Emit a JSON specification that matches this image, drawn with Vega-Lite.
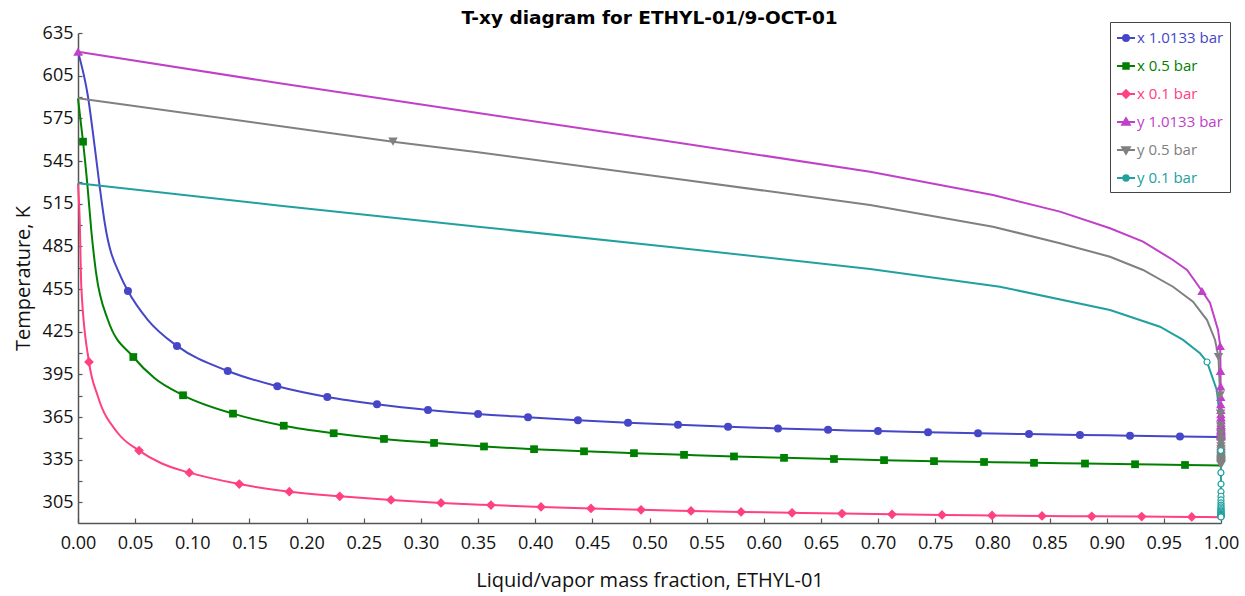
{
"$schema": "https://vega.github.io/schema/vega-lite/v6.json",
"width": 1143, "height": 490,
"autosize": {"type": "none"},
"padding": {"left": 78, "top": 33, "right": 24, "bottom": 73},
"background": "white",
"config": {
  "font": "Open Sans",
  "view": {"stroke": null},
  "axis": {"grid": false, "domainColor": "#555555", "domainWidth": 1.5, "tickColor": "#555555", "tickWidth": 1.2, "labelColor": "#111111", "titleColor": "#111111", "labelFont": "Open Sans", "titleFont": "Open Sans", "labelFontSize": 18, "titleFontSize": 20, "titleFontWeight": "normal"}
},
"title": {"text": "T-xy diagram for ETHYL-01/9-OCT-01", "font": "DejaVu Sans", "fontSize": 18.5, "fontWeight": "bold", "anchor": "middle", "color": "#000000", "offset": -6},
"data": {"values": [
{"s":"x 1.0133 bar","x":0,"T":621.85},
{"s":"x 1.0133 bar","x":0.00875,"T":590.2},
{"s":"x 1.0133 bar","x":0.0146,"T":555.1},
{"s":"x 1.0133 bar","x":0.019,"T":526.9},
{"s":"x 1.0133 bar","x":0.0234,"T":501.4},
{"s":"x 1.0133 bar","x":0.0379,"T":462.8},
{"s":"x 1.0133 bar","x":0.0437,"T":453.6,"m":1},
{"s":"x 1.0133 bar","x":0.0612,"T":433.2},
{"s":"x 1.0133 bar","x":0.0866,"T":415.0,"m":1},
{"s":"x 1.0133 bar","x":0.131,"T":397.4,"m":1},
{"s":"x 1.0133 bar","x":0.1744,"T":386.6,"m":1},
{"s":"x 1.0133 bar","x":0.2181,"T":379.1,"m":1},
{"s":"x 1.0133 bar","x":0.2616,"T":374.0,"m":1},
{"s":"x 1.0133 bar","x":0.3062,"T":370.0,"m":1},
{"s":"x 1.0133 bar","x":0.350,"T":367.1,"m":1},
{"s":"x 1.0133 bar","x":0.3937,"T":364.9,"m":1},
{"s":"x 1.0133 bar","x":0.4374,"T":362.8,"m":1},
{"s":"x 1.0133 bar","x":0.4812,"T":361.0,"m":1},
{"s":"x 1.0133 bar","x":0.5249,"T":359.5,"m":1},
{"s":"x 1.0133 bar","x":0.5687,"T":358.2,"m":1},
{"s":"x 1.0133 bar","x":0.6124,"T":357.0,"m":1},
{"s":"x 1.0133 bar","x":0.6562,"T":356.0,"m":1},
{"s":"x 1.0133 bar","x":0.6999,"T":355.1,"m":1},
{"s":"x 1.0133 bar","x":0.7437,"T":354.3,"m":1},
{"s":"x 1.0133 bar","x":0.7874,"T":353.6,"m":1},
{"s":"x 1.0133 bar","x":0.832,"T":353.0,"m":1},
{"s":"x 1.0133 bar","x":0.8766,"T":352.4,"m":1},
{"s":"x 1.0133 bar","x":0.9204,"T":351.9,"m":1},
{"s":"x 1.0133 bar","x":0.9641,"T":351.4,"m":1},
{"s":"x 1.0133 bar","x":1.0,"T":351.0},
{"s":"x 0.5 bar","x":0,"T":589.1},
{"s":"x 0.5 bar","x":0.0044,"T":558.6,"m":1},
{"s":"x 0.5 bar","x":0.0081,"T":529.3},
{"s":"x 0.5 bar","x":0.0116,"T":496.5},
{"s":"x 0.5 bar","x":0.0157,"T":467.0},
{"s":"x 0.5 bar","x":0.0262,"T":433.2},
{"s":"x 0.5 bar","x":0.0484,"T":407.2,"m":1},
{"s":"x 0.5 bar","x":0.0671,"T":392.2},
{"s":"x 0.5 bar","x":0.0919,"T":380.3,"m":1},
{"s":"x 0.5 bar","x":0.1356,"T":367.4,"m":1},
{"s":"x 0.5 bar","x":0.18,"T":358.9,"m":1},
{"s":"x 0.5 bar","x":0.2237,"T":353.6,"m":1},
{"s":"x 0.5 bar","x":0.2677,"T":349.6,"m":1},
{"s":"x 0.5 bar","x":0.3115,"T":346.8,"m":1},
{"s":"x 0.5 bar","x":0.3552,"T":344.3,"m":1},
{"s":"x 0.5 bar","x":0.399,"T":342.4,"m":1},
{"s":"x 0.5 bar","x":0.4427,"T":340.9,"m":1},
{"s":"x 0.5 bar","x":0.4864,"T":339.6,"m":1},
{"s":"x 0.5 bar","x":0.5302,"T":338.4,"m":1},
{"s":"x 0.5 bar","x":0.5739,"T":337.3,"m":1},
{"s":"x 0.5 bar","x":0.6177,"T":336.3,"m":1},
{"s":"x 0.5 bar","x":0.6614,"T":335.5,"m":1},
{"s":"x 0.5 bar","x":0.7052,"T":334.7,"m":1},
{"s":"x 0.5 bar","x":0.7489,"T":334.0,"m":1},
{"s":"x 0.5 bar","x":0.7927,"T":333.4,"m":1},
{"s":"x 0.5 bar","x":0.8364,"T":332.8,"m":1},
{"s":"x 0.5 bar","x":0.881,"T":332.3,"m":1},
{"s":"x 0.5 bar","x":0.9248,"T":331.8,"m":1},
{"s":"x 0.5 bar","x":0.9685,"T":331.3,"m":1},
{"s":"x 0.5 bar","x":1.0,"T":330.9},
{"s":"x 0.1 bar","x":0,"T":529.3},
{"s":"x 0.1 bar","x":0.0015,"T":503.5},
{"s":"x 0.1 bar","x":0.0029,"T":456.6},
{"s":"x 0.1 bar","x":0.0096,"T":403.7,"m":1},
{"s":"x 0.1 bar","x":0.0175,"T":379.3},
{"s":"x 0.1 bar","x":0.035,"T":353.6},
{"s":"x 0.1 bar","x":0.0534,"T":341.4,"m":1},
{"s":"x 0.1 bar","x":0.0729,"T":332.5},
{"s":"x 0.1 bar","x":0.0974,"T":325.9,"m":1},
{"s":"x 0.1 bar","x":0.1411,"T":317.9,"m":1},
{"s":"x 0.1 bar","x":0.1849,"T":312.5,"m":1},
{"s":"x 0.1 bar","x":0.229,"T":309.3,"m":1},
{"s":"x 0.1 bar","x":0.2738,"T":306.7,"m":1},
{"s":"x 0.1 bar","x":0.3176,"T":304.6,"m":1},
{"s":"x 0.1 bar","x":0.3613,"T":303.1,"m":1},
{"s":"x 0.1 bar","x":0.4051,"T":301.8,"m":1},
{"s":"x 0.1 bar","x":0.4488,"T":300.7,"m":1},
{"s":"x 0.1 bar","x":0.4926,"T":299.8,"m":1},
{"s":"x 0.1 bar","x":0.5363,"T":299.0,"m":1},
{"s":"x 0.1 bar","x":0.5801,"T":298.3,"m":1},
{"s":"x 0.1 bar","x":0.6247,"T":297.7,"m":1},
{"s":"x 0.1 bar","x":0.6684,"T":297.1,"m":1},
{"s":"x 0.1 bar","x":0.7122,"T":296.6,"m":1},
{"s":"x 0.1 bar","x":0.7559,"T":296.2,"m":1},
{"s":"x 0.1 bar","x":0.7997,"T":295.8,"m":1},
{"s":"x 0.1 bar","x":0.8434,"T":295.5,"m":1},
{"s":"x 0.1 bar","x":0.8869,"T":295.2,"m":1},
{"s":"x 0.1 bar","x":0.9306,"T":295.0,"m":1},
{"s":"x 0.1 bar","x":0.9744,"T":294.8,"m":1},
{"s":"x 0.1 bar","x":1.0,"T":294.6},
{"s":"y 1.0133 bar","x":0,"T":621.85,"m":1},
{"s":"y 1.0133 bar","x":0.175,"T":599.8},
{"s":"y 1.0133 bar","x":0.35,"T":578.8},
{"s":"y 1.0133 bar","x":0.518,"T":558.7},
{"s":"y 1.0133 bar","x":0.693,"T":537.5},
{"s":"y 1.0133 bar","x":0.8005,"T":521.1},
{"s":"y 1.0133 bar","x":0.8591,"T":509.4},
{"s":"y 1.0133 bar","x":0.9029,"T":497.7},
{"s":"y 1.0133 bar","x":0.9318,"T":488.3},
{"s":"y 1.0133 bar","x":0.958,"T":475.4},
{"s":"y 1.0133 bar","x":0.9703,"T":468.4},
{"s":"y 1.0133 bar","x":0.9834,"T":453.6,"m":1},
{"s":"y 1.0133 bar","x":0.9904,"T":445.2},
{"s":"y 1.0133 bar","x":0.9974,"T":426.2},
{"s":"y 1.0133 bar","x":0.9993,"T":415.0,"m":1},
{"s":"y 1.0133 bar","x":0.9996,"T":397.4,"m":1},
{"s":"y 1.0133 bar","x":0.9997,"T":386.6,"m":1},
{"s":"y 1.0133 bar","x":0.9998,"T":379.1,"m":1},
{"s":"y 1.0133 bar","x":0.9998,"T":374.0,"m":1},
{"s":"y 1.0133 bar","x":0.9999,"T":370.0,"m":1},
{"s":"y 1.0133 bar","x":0.9999,"T":367.1,"m":1},
{"s":"y 1.0133 bar","x":1.0,"T":364.9,"m":1},
{"s":"y 1.0133 bar","x":1.0,"T":362.8,"m":1},
{"s":"y 1.0133 bar","x":1.0,"T":361.0,"m":1},
{"s":"y 1.0133 bar","x":1.0,"T":359.5,"m":1},
{"s":"y 1.0133 bar","x":1.0,"T":358.2,"m":1},
{"s":"y 1.0133 bar","x":1.0,"T":357.0,"m":1},
{"s":"y 1.0133 bar","x":1.0,"T":356.0,"m":1},
{"s":"y 1.0133 bar","x":1.0,"T":355.1,"m":1},
{"s":"y 1.0133 bar","x":1.0,"T":354.3,"m":1},
{"s":"y 1.0133 bar","x":1.0,"T":353.6,"m":1},
{"s":"y 1.0133 bar","x":1.0,"T":353.0,"m":1},
{"s":"y 1.0133 bar","x":1.0,"T":352.4,"m":1},
{"s":"y 1.0133 bar","x":1.0,"T":351.9,"m":1},
{"s":"y 1.0133 bar","x":1.0,"T":351.4,"m":1},
{"s":"y 1.0133 bar","x":1.0,"T":351.0},
{"s":"y 0.5 bar","x":0,"T":589.1},
{"s":"y 0.5 bar","x":0.2756,"T":558.6,"m":1},
{"s":"y 0.5 bar","x":0.35,"T":551.1},
{"s":"y 0.5 bar","x":0.518,"T":533.1},
{"s":"y 0.5 bar","x":0.693,"T":514.1},
{"s":"y 0.5 bar","x":0.8005,"T":498.8},
{"s":"y 0.5 bar","x":0.8591,"T":487.2},
{"s":"y 0.5 bar","x":0.9029,"T":477.7},
{"s":"y 0.5 bar","x":0.9318,"T":468.4},
{"s":"y 0.5 bar","x":0.958,"T":456.6},
{"s":"y 0.5 bar","x":0.9755,"T":446.1},
{"s":"y 0.5 bar","x":0.9878,"T":433.2},
{"s":"y 0.5 bar","x":0.9948,"T":419.2},
{"s":"y 0.5 bar","x":0.9978,"T":407.2,"m":1},
{"s":"y 0.5 bar","x":0.9992,"T":380.3,"m":1},
{"s":"y 0.5 bar","x":0.9996,"T":367.4,"m":1},
{"s":"y 0.5 bar","x":0.9998,"T":358.9,"m":1},
{"s":"y 0.5 bar","x":0.9999,"T":353.6,"m":1},
{"s":"y 0.5 bar","x":1.0,"T":349.6,"m":1},
{"s":"y 0.5 bar","x":1.0,"T":346.8,"m":1},
{"s":"y 0.5 bar","x":1.0,"T":344.3,"m":1},
{"s":"y 0.5 bar","x":1.0,"T":342.4,"m":1},
{"s":"y 0.5 bar","x":1.0,"T":340.9,"m":1},
{"s":"y 0.5 bar","x":1.0,"T":339.6,"m":1},
{"s":"y 0.5 bar","x":1.0,"T":338.4,"m":1},
{"s":"y 0.5 bar","x":1.0,"T":337.3,"m":1},
{"s":"y 0.5 bar","x":1.0,"T":336.3,"m":1},
{"s":"y 0.5 bar","x":1.0,"T":335.5,"m":1},
{"s":"y 0.5 bar","x":1.0,"T":334.7,"m":1},
{"s":"y 0.5 bar","x":1.0,"T":334.0,"m":1},
{"s":"y 0.5 bar","x":1.0,"T":333.4,"m":1},
{"s":"y 0.5 bar","x":1.0,"T":332.8,"m":1},
{"s":"y 0.5 bar","x":1.0,"T":332.3,"m":1},
{"s":"y 0.5 bar","x":1.0,"T":331.8,"m":1},
{"s":"y 0.5 bar","x":1.0,"T":331.3,"m":1},
{"s":"y 0.5 bar","x":1.0,"T":330.9},
{"s":"y 0.1 bar","x":0,"T":529.3},
{"s":"y 0.1 bar","x":0.175,"T":513.7},
{"s":"y 0.1 bar","x":0.35,"T":498.8},
{"s":"y 0.1 bar","x":0.518,"T":484.6},
{"s":"y 0.1 bar","x":0.693,"T":469.1},
{"s":"y 0.1 bar","x":0.8066,"T":456.6},
{"s":"y 0.1 bar","x":0.9029,"T":440.3},
{"s":"y 0.1 bar","x":0.9466,"T":428.5},
{"s":"y 0.1 bar","x":0.9668,"T":419.2},
{"s":"y 0.1 bar","x":0.9816,"T":409.8},
{"s":"y 0.1 bar","x":0.9878,"T":403.7,"m":1},
{"s":"y 0.1 bar","x":0.9963,"T":384.0},
{"s":"y 0.1 bar","x":0.9995,"T":360.8},
{"s":"y 0.1 bar","x":0.9998,"T":341.4,"m":1},
{"s":"y 0.1 bar","x":0.9999,"T":325.9,"m":1},
{"s":"y 0.1 bar","x":1.0,"T":317.9,"m":1},
{"s":"y 0.1 bar","x":1.0,"T":312.5,"m":1},
{"s":"y 0.1 bar","x":1.0,"T":309.3,"m":1},
{"s":"y 0.1 bar","x":1.0,"T":306.7,"m":1},
{"s":"y 0.1 bar","x":1.0,"T":304.6,"m":1},
{"s":"y 0.1 bar","x":1.0,"T":303.1,"m":1},
{"s":"y 0.1 bar","x":1.0,"T":301.8,"m":1},
{"s":"y 0.1 bar","x":1.0,"T":300.7,"m":1},
{"s":"y 0.1 bar","x":1.0,"T":299.8,"m":1},
{"s":"y 0.1 bar","x":1.0,"T":299.0,"m":1},
{"s":"y 0.1 bar","x":1.0,"T":298.3,"m":1},
{"s":"y 0.1 bar","x":1.0,"T":297.7,"m":1},
{"s":"y 0.1 bar","x":1.0,"T":297.1,"m":1},
{"s":"y 0.1 bar","x":1.0,"T":296.6,"m":1},
{"s":"y 0.1 bar","x":1.0,"T":296.2,"m":1},
{"s":"y 0.1 bar","x":1.0,"T":295.8,"m":1},
{"s":"y 0.1 bar","x":1.0,"T":295.5,"m":1},
{"s":"y 0.1 bar","x":1.0,"T":295.2,"m":1},
{"s":"y 0.1 bar","x":1.0,"T":295.0,"m":1},
{"s":"y 0.1 bar","x":1.0,"T":294.8,"m":1},
{"s":"y 0.1 bar","x":1.0,"T":294.6}
]},
"encoding": {
  "x": {"field": "x", "type": "quantitative", "scale": {"domain": [0, 1], "nice": false, "zero": false},
        "axis": {"title": "Liquid/vapor mass fraction, ETHYL-01", "values": [0,0.05,0.1,0.15,0.2,0.25,0.3,0.35,0.4,0.45,0.5,0.55,0.6,0.65,0.7,0.75,0.8,0.85,0.9,0.95,1], "format": ".2f", "tickSize": -5, "labelPadding": 16, "labelFlush": false, "labelOverlap": false, "titlePadding": 18}},
  "y": {"field": "T", "type": "quantitative", "scale": {"domain": [290.5, 635], "nice": false, "zero": false},
        "axis": {"title": "Temperature, K", "values": [305,320,335,350,365,380,395,410,425,440,455,470,485,500,515,530,545,560,575,590,605,620,635], "labelExpr": "(datum.value - 305) % 30 === 0 ? datum.label : ''", "tickSize": -4, "labelPadding": 9, "labelOverlap": false, "titlePadding": 9}},
  "color": {"field": "s", "type": "nominal",
            "scale": {"domain": ["x 1.0133 bar","x 0.5 bar","x 0.1 bar","y 1.0133 bar","y 0.5 bar","y 0.1 bar"], "range": ["#4646C8","#008000","#FF4081","#C040C8","#808080","#22A0A0"]},
            "legend": {"orient": "none", "legendX": 1032, "legendY": -11, "title": null, "strokeColor": "#444444", "fillColor": "white", "padding": 6, "labelFont": "Open Sans", "labelFontSize": 15, "rowPadding": 10, "symbolSize": 324, "labelOffset": 1, "symbolStrokeWidth": 2,
         "encode": {
           "symbols": {"update": {
             "shape": {"signal": "datum.value === 'x 1.0133 bar' ? 'M-1,0L1,0M-0.33,0A0.33,0.33,0,1,0,0.33,0A0.33,0.33,0,1,0,-0.33,0Z' : datum.value === 'x 0.5 bar' ? 'M-1,0L1,0M-0.3,-0.3L0.3,-0.3L0.3,0.3L-0.3,0.3Z' : datum.value === 'x 0.1 bar' ? 'M-1,0L1,0M0,-0.42L0.42,0L0,0.42L-0.42,0Z' : datum.value === 'y 1.0133 bar' ? 'M-1,0L1,0M0,-0.42L0.42,0.3L-0.42,0.3Z' : datum.value === 'y 0.5 bar' ? 'M-1,0L1,0M0,0.42L0.42,-0.3L-0.42,-0.3Z' : 'M-1,0L-0.3,0M0.3,0L1,0M-0.3,0A0.3,0.3,0,1,0,0.3,0A0.3,0.3,0,1,0,-0.3,0Z'"},
             "size": {"value": 324},
             "fill": {"signal": "datum.value === 'y 0.1 bar' ? 'white' : scale('color', datum.value)"},
             "stroke": {"signal": "scale('color', datum.value)"},
             "strokeWidth": {"value": 2},
             "opacity": {"value": 1}}},
           "labels": {"update": {"fill": {"signal": "scale('color', datum.value)"}}}
         }}}
},
"layer": [
  {"transform": [{"filter": "datum.s[0] === 'x'"}],
   "mark": {"type": "line", "interpolate": "monotone", "strokeWidth": 2},
   "encoding": {"order": {"field": "T", "type": "quantitative", "sort": "descending"}}},
  {"transform": [{"filter": "datum.s[0] === 'y'"}],
   "mark": {"type": "line", "interpolate": "linear", "strokeWidth": 2},
   "encoding": {"order": {"field": "T", "type": "quantitative", "sort": "descending"}}},
  {"transform": [{"filter": "datum.m === 1 && datum.s === 'x 1.0133 bar'"}],
   "mark": {"type": "point", "filled": true, "opacity": 1, "shape": "circle", "size": 64}},
  {"transform": [{"filter": "datum.m === 1 && datum.s === 'x 0.5 bar'"}],
   "mark": {"type": "point", "filled": true, "opacity": 1, "shape": "square", "size": 60}},
  {"transform": [{"filter": "datum.m === 1 && datum.s === 'x 0.1 bar'"}],
   "mark": {"type": "point", "filled": true, "opacity": 1, "shape": "diamond", "size": 95}},
  {"transform": [{"filter": "datum.m === 1 && datum.s === 'y 1.0133 bar'"}],
   "mark": {"type": "point", "filled": true, "opacity": 1, "shape": "triangle-up", "size": 90}},
  {"transform": [{"filter": "datum.m === 1 && datum.s === 'y 0.5 bar'"}],
   "mark": {"type": "point", "filled": true, "opacity": 1, "shape": "triangle-down", "size": 90}},
  {"transform": [{"filter": "datum.m === 1 && datum.s === 'y 0.1 bar'"}],
   "mark": {"type": "point", "filled": false, "fill": "white", "opacity": 1, "strokeWidth": 1.2, "size": 36}}
]
}
